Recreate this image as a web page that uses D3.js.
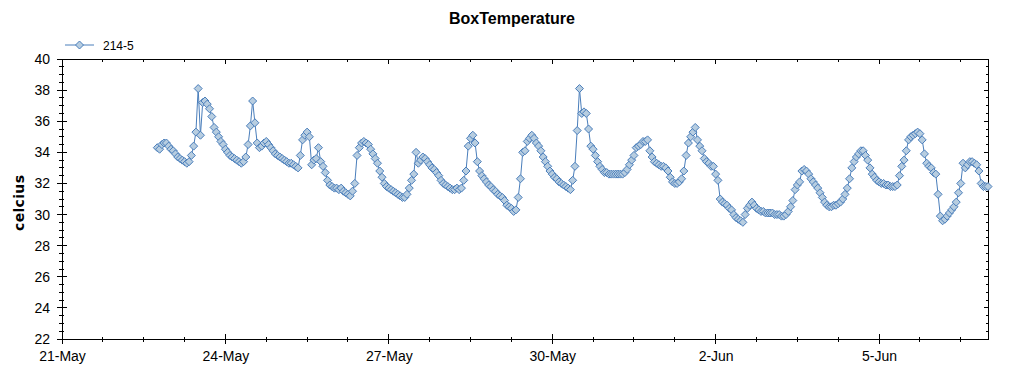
<!DOCTYPE html>
<html>
<head>
<meta charset="utf-8">
<script src="https://cdn.jsdelivr.net/npm/d3@7"></script>
<style>
  body { margin: 0; background: #fff; }
  text { font-family: "Liberation Sans", Arial, sans-serif; }
</style>
</head>
<body>
<script>
// hourly readings, first one at 22-May 18:00
var seriesName = "214-5";
var firstReading = "2014-05-22T18:00";
var temps = [
  34.3, 34.2, 34.5, 34.6, 34.6, 34.4, 34.2, 34.1, 33.9, 33.7, 33.6, 33.5,
  33.4, 33.3, 33.4, 33.8, 34.4, 35.3, 38.1, 35.1, 37.2, 37.3, 37.1, 36.8,
  36.3, 35.6, 35.3, 35.0, 34.7, 34.5, 34.2, 34.0, 33.8, 33.7, 33.6, 33.5,
  33.4, 33.3, 33.4, 33.7, 34.5, 35.7, 37.3, 35.9, 34.6, 34.3, 34.4, 34.6,
  34.7, 34.5, 34.3, 34.1, 33.9, 33.8, 33.7, 33.6, 33.5, 33.4, 33.3, 33.3,
  33.2, 33.1, 33.0, 33.8, 34.8, 35.1, 35.3, 35.0, 33.2, 33.5, 33.6, 34.3,
  33.4, 33.1, 32.7, 32.2, 31.9, 31.8, 31.7, 31.7, 31.6, 31.7, 31.5, 31.4,
  31.3, 31.2, 31.5, 32.0, 33.8, 34.3, 34.6, 34.7, 34.6, 34.5, 34.2, 33.9,
  33.6, 33.3, 32.8, 32.4, 32.0, 31.8, 31.7, 31.6, 31.5, 31.4, 31.3, 31.2,
  31.1, 31.1, 31.3, 31.7, 32.2, 32.6, 34.0, 33.3, 33.5, 33.7, 33.6, 33.4,
  33.2, 33.0, 32.9, 32.7, 32.5, 32.2, 32.0, 31.9, 31.8, 31.7, 31.6, 31.6,
  31.7, 31.6, 31.7, 32.2, 32.8, 34.4, 34.9, 35.1, 34.6, 33.4, 32.8, 32.5,
  32.3, 32.1, 31.9, 31.8, 31.6, 31.5, 31.3, 31.2, 31.1, 30.9, 30.6, 30.5,
  30.4, 30.2, 30.3, 31.1, 32.3, 34.0, 34.1, 34.7, 34.9, 35.1, 34.9, 34.6,
  34.4, 34.1, 33.7, 33.4, 33.1, 32.8, 32.6, 32.4, 32.3, 32.1, 32.0, 31.9,
  31.8, 31.7, 31.6, 32.2, 33.1, 35.4, 38.1, 36.5, 36.6, 36.5, 35.5, 34.4,
  34.2, 33.8, 33.4, 33.1, 32.9, 32.7, 32.7, 32.6, 32.6, 32.6, 32.6, 32.6,
  32.6, 32.6, 32.7, 32.9, 33.2, 33.5, 33.8, 34.3, 34.4, 34.5, 34.7, 34.7,
  34.8, 34.1, 33.7, 33.4, 33.3, 33.2, 33.1, 33.1, 33.0, 32.8, 32.4, 32.1,
  32.0, 32.0, 32.1, 32.3, 32.8, 33.8, 34.6, 35.0, 35.3, 35.6, 34.8, 34.4,
  34.1, 33.6, 33.4, 33.3, 33.1, 33.1, 32.6, 32.2, 31.0, 30.8, 30.7, 30.6,
  30.4, 30.3, 30.0, 29.8, 29.7, 29.6, 29.5, 30.0, 30.4, 30.6, 30.8, 30.6,
  30.4, 30.3, 30.2, 30.2, 30.1, 30.1, 30.1, 30.1, 30.0, 30.0, 30.0, 29.9,
  29.9, 30.0, 30.2, 30.5, 30.9, 31.6, 31.9, 32.1, 32.8, 32.9, 32.8, 32.6,
  32.3, 32.1, 31.9, 31.7, 31.4, 31.1, 30.8, 30.6, 30.5, 30.5, 30.6, 30.6,
  30.7, 30.8, 31.0, 31.3, 31.7, 32.3, 33.0, 33.4, 33.7, 33.9, 34.1, 34.1,
  33.8, 33.5, 33.0, 32.6, 32.4, 32.2, 32.1, 32.0, 32.0, 31.9, 31.9, 31.8,
  31.8, 31.8, 31.9, 32.5, 33.1, 33.5, 34.1, 34.8, 35.0, 35.1, 35.2, 35.3,
  35.2, 34.8, 33.9, 33.3, 33.1, 33.0, 32.7, 32.6, 31.3, 29.9, 29.6, 29.7,
  29.9, 30.1, 30.3, 30.5, 30.8, 31.4, 32.0, 33.3, 33.0, 33.2, 33.4, 33.4,
  33.3, 33.2, 32.8, 32.0, 31.8, 31.8, 31.8
];

var xDomain = ["2014-05-21T00:00", "2014-06-07T00:00"];
var xTickDates = ["2014-05-21", "2014-05-24", "2014-05-27", "2014-05-30", "2014-06-02", "2014-06-05"];
var yTicks = [22, 24, 26, 28, 30, 32, 34, 36, 38, 40];

var margin = {top: 59, right: 36, bottom: 36, left: 62},
    width = 1024 - margin.left - margin.right,
    height = 375 - margin.top - margin.bottom;

var parse = d3.timeParse("%Y-%m-%dT%H:%M");
var parseDay = d3.timeParse("%Y-%m-%d");
var t0 = parse(firstReading);
var data = temps.map(function(v, i) {
  return {t: d3.timeHour.offset(t0, i), v: v};
});

var x = d3.scaleTime()
    .domain(xDomain.map(parse))
    .range([0, width]);
var y = d3.scaleLinear()
    .domain([22, 40])
    .range([height, 0]);

var diamond = "M0,-4L4,0L0,4L-4,0Z";

var svg = d3.select("body").append("svg")
    .attr("width", 1024)
    .attr("height", 375);

// title
svg.append("text")
    .attr("x", 512).attr("y", 24)
    .attr("text-anchor", "middle")
    .style("font-size", "16px").style("font-weight", "bold")
    .text("BoxTemperature");

// legend
var lg = svg.append("g").attr("transform", "translate(65,45)");
lg.append("line").attr("x1", 0).attr("x2", 29)
    .attr("stroke", "#4a7ebb").attr("stroke-width", 1);
lg.append("path").attr("d", diamond)
    .attr("transform", "translate(14.5,0)")
    .attr("fill", "#b7cde0").attr("stroke", "#4a7ebb");
lg.append("text").attr("x", 38).attr("y", 5)
    .style("font-size", "12px").text(seriesName);

var g = svg.append("g")
    .attr("transform", "translate(" + margin.left + "," + margin.top + ")");

// frame
g.append("rect").attr("width", width).attr("height", height)
    .attr("fill", "none").attr("stroke", "#000").attr("shape-rendering", "crispEdges");

var xMinor = d3.range(0, 17 * 24 + 1, 18).map(function(h) {
  return d3.timeHour.offset(x.domain()[0], h);
});
var yMinor = d3.range(22, 40.01, 0.5).filter(function(d) { return d % 2 !== 0; });
var xMajor = xTickDates.map(parseDay);

var ticks = g.append("g").attr("stroke", "#000").attr("shape-rendering", "crispEdges");
// bottom
ticks.selectAll(null).data(xMajor).enter().append("line")
    .attr("x1", x).attr("x2", x).attr("y1", height - 5).attr("y2", height + 5);
ticks.selectAll(null).data(xMinor).enter().append("line")
    .attr("x1", x).attr("x2", x).attr("y1", height - 2).attr("y2", height + 3);
// top
ticks.selectAll(null).data(xMajor).enter().append("line")
    .attr("x1", x).attr("x2", x).attr("y1", 0).attr("y2", 5);
ticks.selectAll(null).data(xMinor).enter().append("line")
    .attr("x1", x).attr("x2", x).attr("y1", 0).attr("y2", 3);
// left
ticks.selectAll(null).data(yTicks).enter().append("line")
    .attr("y1", y).attr("y2", y).attr("x1", -5).attr("x2", 5);
ticks.selectAll(null).data(yMinor).enter().append("line")
    .attr("y1", y).attr("y2", y).attr("x1", -3).attr("x2", 2);
// right
ticks.selectAll(null).data(yTicks).enter().append("line")
    .attr("y1", y).attr("y2", y).attr("x1", width - 4).attr("x2", width);
ticks.selectAll(null).data(yMinor).enter().append("line")
    .attr("y1", y).attr("y2", y).attr("x1", width - 2).attr("x2", width);

// axis labels through d3 axes (no tick lines)
var xAxis = g.append("g")
    .attr("transform", "translate(0," + height + ")")
    .call(d3.axisBottom(x).tickValues(xMajor).tickSize(0).tickPadding(12)
      .tickFormat(d3.timeFormat("%-d-%b")));
var yAxis = g.append("g")
    .call(d3.axisLeft(y).tickValues(yTicks).tickSize(0).tickPadding(12));
[xAxis, yAxis].forEach(function(a) {
  a.select(".domain").remove();
  a.selectAll("text").style("font-size", "14px")
    .style("font-family", "'Liberation Sans', Arial, sans-serif").attr("fill", "#000");
});

svg.append("text")
    .attr("transform", "translate(24,203) rotate(-90)")
    .attr("text-anchor", "middle")
    .attr("textLength", 56)
    .attr("lengthAdjust", "spacing")
    .style("font-family", "'DejaVu Sans', sans-serif")
    .style("font-size", "14px").style("font-weight", "bold")
    .text("celcius");

// series
var line = d3.line()
    .x(function(d) { return x(d.t); })
    .y(function(d) { return y(d.v); });

g.append("path").datum(data)
    .attr("d", line)
    .attr("fill", "none")
    .attr("stroke", "#4a7ebb")
    .attr("stroke-width", 1);

g.selectAll(".pt").data(data).enter().append("path")
    .attr("class", "pt")
    .attr("d", diamond)
    .attr("transform", function(d) { return "translate(" + x(d.t) + "," + y(d.v) + ")"; })
    .attr("fill", "#b7cde0")
    .attr("stroke", "#4a7ebb")
    .attr("stroke-width", 1);
</script>
</body>
</html>
